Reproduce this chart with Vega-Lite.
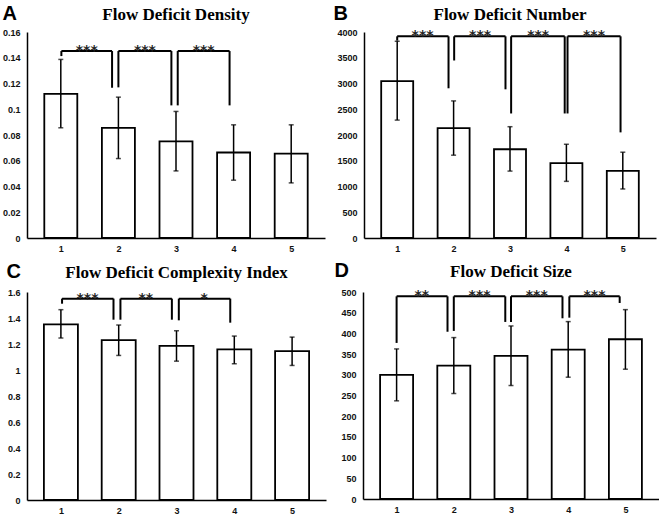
{
  "$schema": "https://vega.github.io/schema/vega-lite/v6.json",
  "padding": {"left": 2, "right": 0, "top": 3, "bottom": 0},
  "background": "white",
  "config": {
    "view": {"stroke": null},
    "axis": {"grid": false, "ticks": false, "domainColor": "#000", "domainWidth": 1.5, "labelFont": "Liberation Sans", "labelFontWeight": "bold", "labelFontSize": 9, "labelColor": "#111", "labelPadding": 7, "labelOverlap": false},
    "axisX": {"labelPadding": 6},
    "axisY": {"titleAngle": 0, "titleAlign": "left", "titleBaseline": "alphabetic", "titleFont": "Liberation Sans", "titleFontSize": 20, "titleFontWeight": "bold", "titleColor": "#000"},
    "title": {"font": "Liberation Serif", "fontSize": 17, "fontWeight": "bold", "color": "#000", "offset": -21, "anchor": "middle"}
  },
  "datasets": {
    "a": [
      {"g": 1, "mean": 0.112, "lo": 0.0856, "hi": 0.1387},
      {"g": 2, "mean": 0.0856, "lo": 0.0617, "hi": 0.1094},
      {"g": 3, "mean": 0.075, "lo": 0.0521, "hi": 0.0983},
      {"g": 4, "mean": 0.0664, "lo": 0.0449, "hi": 0.0879},
      {"g": 5, "mean": 0.0656, "lo": 0.0428, "hi": 0.0879}
    ],
    "a_br": [
      {"xl": 1.01, "xr": 1.89, "xm": 1.45, "top": 0.1452, "yl": 0.1413, "yr": 0.1167, "label": "***"},
      {"xl": 2.0, "xr": 2.92, "xm": 2.46, "top": 0.1452, "yl": 0.117, "yr": 0.103, "label": "***"},
      {"xl": 3.03, "xr": 3.93, "xm": 3.48, "top": 0.1452, "yl": 0.103, "yr": 0.103, "label": "***"}
    ],
    "b": [
      {"g": 1, "mean": 3048, "lo": 2289, "hi": 3820},
      {"g": 2, "mean": 2135, "lo": 1608, "hi": 2662},
      {"g": 3, "mean": 1723, "lo": 1299, "hi": 2161},
      {"g": 4, "mean": 1453, "lo": 1100, "hi": 1820},
      {"g": 5, "mean": 1305, "lo": 952, "hi": 1666}
    ],
    "b_br": [
      {"xl": 1.0, "xr": 1.91, "xm": 1.45, "top": 3916, "yl": 3833, "yr": 2907, "label": "***"},
      {"xl": 2.01, "xr": 2.92, "xm": 2.47, "top": 3916, "yl": 3447, "yr": 2887, "label": "***"},
      {"xl": 3.02, "xr": 3.97, "xm": 3.5, "top": 3916, "yl": 2418, "yr": 2418, "label": "***"},
      {"xl": 4.02, "xr": 4.96, "xm": 4.49, "top": 3916, "yl": 2418, "yr": 2051, "label": "***"}
    ],
    "c": [
      {"g": 1, "mean": 1.351, "lo": 1.246, "hi": 1.464},
      {"g": 2, "mean": 1.23, "lo": 1.112, "hi": 1.346},
      {"g": 3, "mean": 1.186, "lo": 1.068, "hi": 1.302},
      {"g": 4, "mean": 1.158, "lo": 1.048, "hi": 1.261},
      {"g": 5, "mean": 1.145, "lo": 1.035, "hi": 1.253}
    ],
    "c_br": [
      {"xl": 1.02, "xr": 1.91, "xm": 1.46, "top": 1.549, "yl": 1.51, "yr": 1.387, "label": "***"},
      {"xl": 2.03, "xr": 2.92, "xm": 2.47, "top": 1.549, "yl": 1.387, "yr": 1.387, "label": "**"},
      {"xl": 3.04, "xr": 3.93, "xm": 3.48, "top": 1.549, "yl": 1.382, "yr": 1.364, "label": "*"}
    ],
    "d": [
      {"g": 1, "mean": 299.8, "lo": 237.1, "hi": 362.5},
      {"g": 2, "mean": 322.3, "lo": 254.8, "hi": 389.9},
      {"g": 3, "mean": 345.7, "lo": 274.1, "hi": 418.0},
      {"g": 4, "mean": 360.9, "lo": 294.2, "hi": 428.5},
      {"g": 5, "mean": 385.9, "lo": 313.5, "hi": 457.4}
    ],
    "d_br": [
      {"xl": 1.0, "xr": 1.89, "xm": 1.44, "top": 489.5, "yl": 377, "yr": 404, "label": "**"},
      {"xl": 2.0, "xr": 2.9, "xm": 2.45, "top": 489.5, "yl": 406, "yr": 427.7, "label": "***"},
      {"xl": 3.0, "xr": 3.9, "xm": 3.45, "top": 489.5, "yl": 427.7, "yr": 436.5, "label": "***"},
      {"xl": 4.02, "xr": 4.9, "xm": 4.46, "top": 489.5, "yl": 438, "yr": 473.5, "label": "***"}
    ]
  },
  "vconcat": [
    {
      "hconcat": [
        {
          "width": 298, "height": 206,
          "title": "Flow Deficit Density",
          "layer": [
            {"data": {"name": "a"}, "mark": {"type": "bar", "fill": "white", "stroke": "#000", "strokeWidth": 1.8, "width": 33},
             "encoding": {
               "x": {"field": "g", "type": "quantitative", "title": null, "scale": {"domain": [0.5, 5.5], "nice": false, "zero": false}, "axis": {"values": [1, 2, 3, 4, 5], "tickCount": 20, "format": "d", "labelOverlap": false}},
               "y": {"field": "mean", "type": "quantitative", "title": "A", "scale": {"domain": [0, 0.16]}, "axis": {"values": [0, 0.02, 0.04, 0.06, 0.08, 0.1, 0.12, 0.14, 0.16], "tickCount": 20, "format": "~g", "labelOverlap": false, "titleX": -25, "titleY": -13}}
             }},
            {"data": {"name": "a"}, "mark": {"type": "rule", "color": "#000", "strokeWidth": 1.5},
             "encoding": {"x": {"field": "g", "type": "quantitative", "title": null}, "y": {"field": "lo", "type": "quantitative", "title": "A"}, "y2": {"field": "hi"}}},
            {"data": {"name": "a"}, "mark": {"type": "tick", "orient": "horizontal", "color": "#000", "thickness": 1.5, "size": 5},
             "encoding": {"x": {"field": "g", "type": "quantitative", "title": null}, "y": {"field": "lo", "type": "quantitative", "title": "A"}}},
            {"data": {"name": "a"}, "mark": {"type": "tick", "orient": "horizontal", "color": "#000", "thickness": 1.5, "size": 5},
             "encoding": {"x": {"field": "g", "type": "quantitative", "title": null}, "y": {"field": "hi", "type": "quantitative", "title": "A"}}},
            {"data": {"name": "a_br"}, "mark": {"type": "rule", "color": "#000", "strokeWidth": 2},
             "encoding": {"x": {"field": "xl", "type": "quantitative", "title": null}, "x2": {"field": "xr"}, "y": {"field": "top", "type": "quantitative", "title": "A"}}},
            {"data": {"name": "a_br"}, "mark": {"type": "rule", "color": "#000", "strokeWidth": 2},
             "encoding": {"x": {"field": "xl", "type": "quantitative", "title": null}, "y": {"field": "top", "type": "quantitative", "title": "A"}, "y2": {"field": "yl"}}},
            {"data": {"name": "a_br"}, "mark": {"type": "rule", "color": "#000", "strokeWidth": 2},
             "encoding": {"x": {"field": "xr", "type": "quantitative", "title": null}, "y": {"field": "top", "type": "quantitative", "title": "A"}, "y2": {"field": "yr"}}},
            {"data": {"name": "a_br"}, "mark": {"type": "text", "font": "DejaVu Sans", "fontWeight": "bold", "fontSize": 14, "color": "#222", "baseline": "alphabetic", "dy": 4},
             "encoding": {"x": {"field": "xm", "type": "quantitative", "title": null}, "y": {"field": "top", "type": "quantitative", "title": "A"}, "text": {"field": "label"}}}
          ]
        },
        {
          "width": 292, "height": 206,
          "title": "Flow Deficit Number",
          "layer": [
            {"data": {"name": "b"}, "mark": {"type": "bar", "fill": "white", "stroke": "#000", "strokeWidth": 1.8, "width": 32},
             "encoding": {
               "x": {"field": "g", "type": "quantitative", "title": null, "scale": {"domain": [0.5, 5.5], "nice": false, "zero": false}, "axis": {"values": [1, 2, 3, 4, 5], "tickCount": 20, "format": "d", "labelOverlap": false}},
               "y": {"field": "mean", "type": "quantitative", "title": "B", "scale": {"domain": [0, 4000]}, "axis": {"values": [0, 500, 1000, 1500, 2000, 2500, 3000, 3500, 4000], "tickCount": 20, "format": "d", "labelOverlap": false, "titleX": -31, "titleY": -13}}
             }},
            {"data": {"name": "b"}, "mark": {"type": "rule", "color": "#000", "strokeWidth": 1.5},
             "encoding": {"x": {"field": "g", "type": "quantitative", "title": null}, "y": {"field": "lo", "type": "quantitative", "title": "B"}, "y2": {"field": "hi"}}},
            {"data": {"name": "b"}, "mark": {"type": "tick", "orient": "horizontal", "color": "#000", "thickness": 1.5, "size": 5},
             "encoding": {"x": {"field": "g", "type": "quantitative", "title": null}, "y": {"field": "lo", "type": "quantitative", "title": "B"}}},
            {"data": {"name": "b"}, "mark": {"type": "tick", "orient": "horizontal", "color": "#000", "thickness": 1.5, "size": 5},
             "encoding": {"x": {"field": "g", "type": "quantitative", "title": null}, "y": {"field": "hi", "type": "quantitative", "title": "B"}}},
            {"data": {"name": "b_br"}, "mark": {"type": "rule", "color": "#000", "strokeWidth": 2},
             "encoding": {"x": {"field": "xl", "type": "quantitative", "title": null}, "x2": {"field": "xr"}, "y": {"field": "top", "type": "quantitative", "title": "B"}}},
            {"data": {"name": "b_br"}, "mark": {"type": "rule", "color": "#000", "strokeWidth": 2},
             "encoding": {"x": {"field": "xl", "type": "quantitative", "title": null}, "y": {"field": "top", "type": "quantitative", "title": "B"}, "y2": {"field": "yl"}}},
            {"data": {"name": "b_br"}, "mark": {"type": "rule", "color": "#000", "strokeWidth": 2},
             "encoding": {"x": {"field": "xr", "type": "quantitative", "title": null}, "y": {"field": "top", "type": "quantitative", "title": "B"}, "y2": {"field": "yr"}}},
            {"data": {"name": "b_br"}, "mark": {"type": "text", "font": "DejaVu Sans", "fontWeight": "bold", "fontSize": 14, "color": "#222", "baseline": "alphabetic", "dy": 4},
             "encoding": {"x": {"field": "xm", "type": "quantitative", "title": null}, "y": {"field": "top", "type": "quantitative", "title": "B"}, "text": {"field": "label"}}}
          ]
        }
      ],
      "spacing": 8
    },
    {
      "hconcat": [
        {
          "width": 299, "height": 208,
          "title": {"text": "Flow Deficit Complexity Index", "offset": -21},
          "layer": [
            {"data": {"name": "c"}, "mark": {"type": "bar", "fill": "white", "stroke": "#000", "strokeWidth": 1.8, "width": 34},
             "encoding": {
               "x": {"field": "g", "type": "quantitative", "title": null, "scale": {"domain": [0.5, 5.5], "nice": false, "zero": false}, "axis": {"values": [1, 2, 3, 4, 5], "tickCount": 20, "format": "d", "labelOverlap": false}},
               "y": {"field": "mean", "type": "quantitative", "title": "C", "scale": {"domain": [0, 1.6]}, "axis": {"values": [0, 0.2, 0.4, 0.6, 0.8, 1, 1.2, 1.4, 1.6], "tickCount": 20, "format": "~g", "labelOverlap": false, "titleX": -21, "titleY": -15}}
             }},
            {"data": {"name": "c"}, "mark": {"type": "rule", "color": "#000", "strokeWidth": 1.5},
             "encoding": {"x": {"field": "g", "type": "quantitative", "title": null}, "y": {"field": "lo", "type": "quantitative", "title": "C"}, "y2": {"field": "hi"}}},
            {"data": {"name": "c"}, "mark": {"type": "tick", "orient": "horizontal", "color": "#000", "thickness": 1.5, "size": 5},
             "encoding": {"x": {"field": "g", "type": "quantitative", "title": null}, "y": {"field": "lo", "type": "quantitative", "title": "C"}}},
            {"data": {"name": "c"}, "mark": {"type": "tick", "orient": "horizontal", "color": "#000", "thickness": 1.5, "size": 5},
             "encoding": {"x": {"field": "g", "type": "quantitative", "title": null}, "y": {"field": "hi", "type": "quantitative", "title": "C"}}},
            {"data": {"name": "c_br"}, "mark": {"type": "rule", "color": "#000", "strokeWidth": 2},
             "encoding": {"x": {"field": "xl", "type": "quantitative", "title": null}, "x2": {"field": "xr"}, "y": {"field": "top", "type": "quantitative", "title": "C"}}},
            {"data": {"name": "c_br"}, "mark": {"type": "rule", "color": "#000", "strokeWidth": 2},
             "encoding": {"x": {"field": "xl", "type": "quantitative", "title": null}, "y": {"field": "top", "type": "quantitative", "title": "C"}, "y2": {"field": "yl"}}},
            {"data": {"name": "c_br"}, "mark": {"type": "rule", "color": "#000", "strokeWidth": 2},
             "encoding": {"x": {"field": "xr", "type": "quantitative", "title": null}, "y": {"field": "top", "type": "quantitative", "title": "C"}, "y2": {"field": "yr"}}},
            {"data": {"name": "c_br"}, "mark": {"type": "text", "font": "DejaVu Sans", "fontWeight": "bold", "fontSize": 14, "color": "#222", "baseline": "alphabetic", "dy": 4},
             "encoding": {"x": {"field": "xm", "type": "quantitative", "title": null}, "y": {"field": "top", "type": "quantitative", "title": "C"}, "text": {"field": "label"}}}
          ]
        },
        {
          "width": 296, "height": 207,
          "title": {"text": "Flow Deficit Size", "offset": -21},
          "layer": [
            {"data": {"name": "d"}, "mark": {"type": "bar", "fill": "white", "stroke": "#000", "strokeWidth": 1.8, "width": 33},
             "encoding": {
               "x": {"field": "g", "type": "quantitative", "title": null, "scale": {"domain": [0.5, 5.5], "nice": false, "zero": false}, "axis": {"values": [1, 2, 3, 4, 5], "tickCount": 20, "format": "d", "labelOverlap": false}},
               "y": {"field": "mean", "type": "quantitative", "title": "D", "scale": {"domain": [0, 500]}, "axis": {"values": [0, 50, 100, 150, 200, 250, 300, 350, 400, 450, 500], "tickCount": 20, "format": "d", "labelOverlap": false, "titleX": -29, "titleY": -16}}
             }},
            {"data": {"name": "d"}, "mark": {"type": "rule", "color": "#000", "strokeWidth": 1.5},
             "encoding": {"x": {"field": "g", "type": "quantitative", "title": null}, "y": {"field": "lo", "type": "quantitative", "title": "D"}, "y2": {"field": "hi"}}},
            {"data": {"name": "d"}, "mark": {"type": "tick", "orient": "horizontal", "color": "#000", "thickness": 1.5, "size": 5},
             "encoding": {"x": {"field": "g", "type": "quantitative", "title": null}, "y": {"field": "lo", "type": "quantitative", "title": "D"}}},
            {"data": {"name": "d"}, "mark": {"type": "tick", "orient": "horizontal", "color": "#000", "thickness": 1.5, "size": 5},
             "encoding": {"x": {"field": "g", "type": "quantitative", "title": null}, "y": {"field": "hi", "type": "quantitative", "title": "D"}}},
            {"data": {"name": "d_br"}, "mark": {"type": "rule", "color": "#000", "strokeWidth": 2},
             "encoding": {"x": {"field": "xl", "type": "quantitative", "title": null}, "x2": {"field": "xr"}, "y": {"field": "top", "type": "quantitative", "title": "D"}}},
            {"data": {"name": "d_br"}, "mark": {"type": "rule", "color": "#000", "strokeWidth": 2},
             "encoding": {"x": {"field": "xl", "type": "quantitative", "title": null}, "y": {"field": "top", "type": "quantitative", "title": "D"}, "y2": {"field": "yl"}}},
            {"data": {"name": "d_br"}, "mark": {"type": "rule", "color": "#000", "strokeWidth": 2},
             "encoding": {"x": {"field": "xr", "type": "quantitative", "title": null}, "y": {"field": "top", "type": "quantitative", "title": "D"}, "y2": {"field": "yr"}}},
            {"data": {"name": "d_br"}, "mark": {"type": "text", "font": "DejaVu Sans", "fontWeight": "bold", "fontSize": 14, "color": "#222", "baseline": "alphabetic", "dy": 4},
             "encoding": {"x": {"field": "xm", "type": "quantitative", "title": null}, "y": {"field": "top", "type": "quantitative", "title": "D"}, "text": {"field": "label"}}}
          ]
        }
      ],
      "spacing": 8
    }
  ],
  "spacing": 7
}
